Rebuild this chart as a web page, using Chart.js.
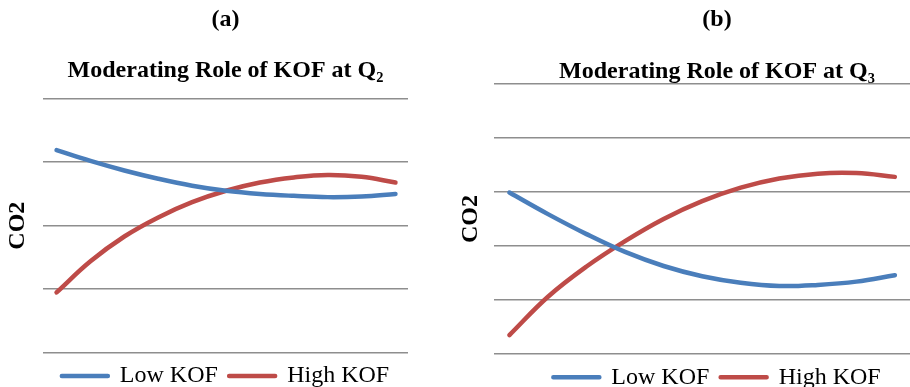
<!DOCTYPE html>
<html>
<head>
<meta charset="utf-8">
<script src="https://cdn.jsdelivr.net/npm/chart.js@4.4.1/dist/chart.umd.min.js"></script>
<style>
  html, body { margin: 0; padding: 0; background: #fff; overflow: hidden; }
  .wrap { position: absolute; top: 0; width: 455px; height: 387px; overflow: hidden; }
  #wrapA { left: 0; }
  #wrapB { left: 455px; }
</style>
</head>
<body>
<div class="wrap" id="wrapA"><canvas id="chartA" width="455" height="400"></canvas></div>
<div class="wrap" id="wrapB"><canvas id="chartB" width="485" height="400"></canvas></div>
<script>
// positions along the x axis (evenly spaced readings)
const xPos = [0, 1, 2, 3, 4, 5, 6, 7, 8, 9, 10];

// panel (a): Q2
const lowKofA  = [3.19, 3.02, 2.87, 2.74, 2.63, 2.55, 2.50, 2.47, 2.45, 2.46, 2.50];
const highKofA = [0.95, 1.44, 1.83, 2.13, 2.37, 2.55, 2.68, 2.76, 2.80, 2.77, 2.68];

// panel (b): Q3
const lowKofB  = [2.99, 2.59, 2.22, 1.89, 1.63, 1.44, 1.32, 1.26, 1.28, 1.34, 1.46];
const highKofB = [0.35, 1.06, 1.62, 2.09, 2.50, 2.83, 3.08, 3.25, 3.34, 3.35, 3.28];

const seriesNames = ["Low KOF", "High KOF"];
const BLUE = "#4a7ebb";
const RED = "#be4b48";
const SERIF = "'Liberation Serif', 'Times New Roman', serif";

function toPoints(values) {
    return xPos.map((x, i) => ({ x: x, y: values[i] }));
}

function makeLine(label, values, color) {
    return {
        label: label,
        data: toPoints(values),
        borderColor: color,
        backgroundColor: color,
        borderWidth: 4.5,
        borderCapStyle: "round",
        borderJoinStyle: "round",
        pointRadius: 0,
        tension: 0.4,
        fill: false
    };
}

function buildChart(id, cfg) {
    const ctx = document.getElementById(id).getContext("2d");
    return new Chart(ctx, {
        type: "line",
        data: {
            datasets: [
                makeLine(seriesNames[0], cfg.low, BLUE),
                makeLine(seriesNames[1], cfg.high, RED)
            ]
        },
        options: {
            responsive: false,
            animation: false,
            layout: { padding: { left: 0, right: cfg.padRight, top: 0, bottom: cfg.padBottom } },
            plugins: {
                tooltip: { enabled: false },
                title: {
                    display: true,
                    text: cfg.label,
                    fullSize: false,
                    color: "#000",
                    font: { family: SERIF, size: 24, weight: "bold" },
                    padding: { top: 5.6, bottom: 11 }
                },
                subtitle: {
                    display: true,
                    text: cfg.title,
                    fullSize: false,
                    color: "#000",
                    font: { family: SERIF, size: 24, weight: "bold" },
                    padding: cfg.subPad
                },
                legend: {
                    display: true,
                    position: "bottom",
                    fullSize: false,
                    labels: {
                        color: "#000",
                        font: { family: SERIF, size: 24 },
                        boxWidth: 46,
                        boxHeight: 0,
                        padding: 11.3
                    }
                }
            },
            scales: {
                x: {
                    type: "linear",
                    display: false,
                    min: -0.4,
                    max: cfg.xMax
                },
                y: {
                    min: 0,
                    max: cfg.yMax,
                    ticks: { display: false, stepSize: 1 },
                    border: { display: false },
                    grid: { color: "#8e8e8e", lineWidth: 1.5, drawTicks: false },
                    title: {
                        display: true,
                        text: "CO2",
                        color: "#000",
                        font: { family: SERIF, size: 24, weight: "bold" },
                        padding: cfg.yTitlePad
                    }
                }
            }
        }
    });
}

buildChart("chartA", {
    label: "(a)",
    title: "Moderating Role of KOF at Q\u2082",
    low: lowKofA,
    high: highKofA,
    yMax: 4,
    xMax: 10.37,
    padRight: 47,
    padBottom: 2,
    subPad: { top: 11.2, bottom: 13.3 },
    yTitlePad: { top: 3, bottom: 11.2 }
});

buildChart("chartB", {
    label: "(b)",
    title: "Moderating Role of KOF at Q\u2083",
    low: lowKofB,
    high: highKofB,
    yMax: 5,
    xMax: 11.17,
    padRight: 0,
    padBottom: 0.7,
    subPad: { top: 11.9, bottom: -2.1 },
    yTitlePad: { top: 1, bottom: 9.2 }
});
</script>
</body>
</html>
